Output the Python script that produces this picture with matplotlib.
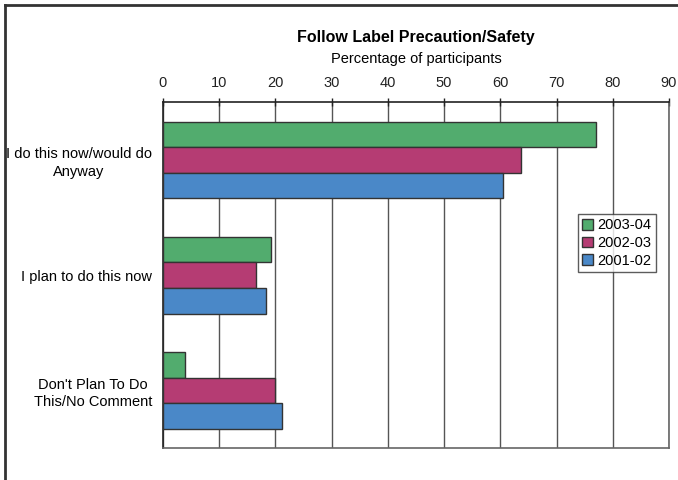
import numpy as np
import matplotlib.pyplot as plt
from matplotlib.lines import Line2D

plt.rcParams['font.family'] = ['Liberation Sans', 'DejaVu Sans']

categories = ["I do this now/would do\nAnyway", "I plan to do this now", "Don't Plan To Do\nThis/No Comment"]
series = ["2003-04", "2002-03", "2001-02"]
values_0304 = [77.0, 19.2, 4.0]
values_0203 = [63.6, 16.5, 20.0]
values_0102 = [60.4, 18.3, 21.1]
colors = ["#52ac6e", "#b53c73", "#4a88c8"]
xticks = [0, 10, 20, 30, 40, 50, 60, 70, 80, 90]

fig = plt.figure(figsize=(6.78, 4.8), dpi=100)
ax = fig.add_axes([0.2404, 0.0667, 0.7463, 0.7202])

y = np.arange(len(categories))
h = 0.222
for k, (name, vals) in enumerate(zip(series, [values_0304, values_0203, values_0102])):
    ax.barh(y + (k - 1) * h, vals, height=h, color=colors[k], edgecolor='#333333',
            linewidth=1, label=name, zorder=3)

ax.set_xlim(0, 90)
ax.set_ylim(2.5, -0.5)
ax.set_xticks(xticks)
ax.xaxis.tick_top()
ax.tick_params(axis='x', direction='inout', length=6, width=1, colors='#222222',
               labelsize=10.5, pad=6)
ax.tick_params(axis='y', length=0, labelsize=10.5, pad=8)
ax.set_yticks(y)
ax.set_yticklabels(categories, multialignment='center', linespacing=1.3)
ax.grid(axis='x', color='#555555', linewidth=1, zorder=0)

ax.spines['top'].set_color('#222222')
ax.spines['left'].set_color('#222222')
ax.spines['bottom'].set_color('#666666')
ax.spines['right'].set_color('#666666')
for s in ax.spines.values():
    s.set_linewidth(1.2)

leg = ax.legend(loc='upper right', bbox_to_anchor=(0.9737, 0.677), borderaxespad=0,
                fancybox=False, edgecolor='#333333', fontsize=10.5, handlelength=0.75,
                handleheight=0.75, handletextpad=0.3, labelspacing=0.25, borderpad=0.3)
leg.get_frame().set_linewidth(1)

fig.text(0.6135, 0.921, "Follow Label Precaution/Safety", ha='center', va='center',
         fontsize=11.5, fontweight='bold')
fig.text(0.6135, 0.878, "Percentage of participants", ha='center', va='center', fontsize=10.5)

# outer frame (top and left edge)
fig.add_artist(Line2D([5 / 678, 5 / 678], [0, 1 - 5 / 480], transform=fig.transFigure,
                      color='#333333', linewidth=2))
fig.add_artist(Line2D([5 / 678, 1], [1 - 5 / 480, 1 - 5 / 480], transform=fig.transFigure,
                      color='#333333', linewidth=2))

fig.savefig('out.png', dpi=100)
